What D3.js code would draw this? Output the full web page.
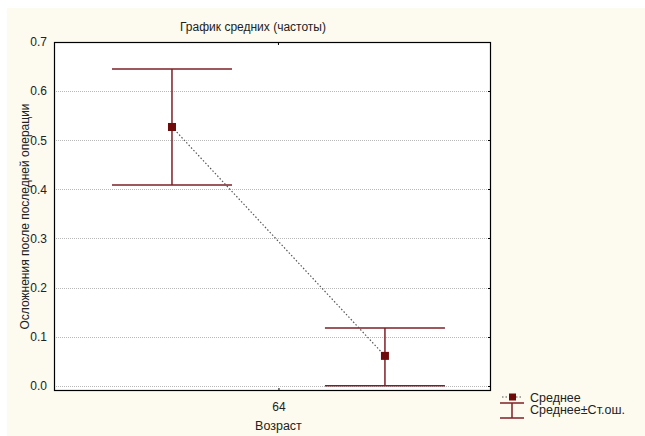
<!DOCTYPE html>
<html>
<head>
<meta charset="utf-8">
<script src="https://cdn.jsdelivr.net/npm/d3@7"></script>
<style>
  body { margin: 0; background: #fff; }
  text { font-family: "Liberation Sans", Arial, sans-serif; fill: #222; }
</style>
</head>
<body>
<div id="chart"></div>
<script>
// group positions along x and the single tick shown
var groups = [1, 2],
    means = [0.527, 0.061],
    upper = [0.645, 0.118],
    lower = [0.409, 0.0],
    xTicks = [1.5],
    xTickLabels = ["64"],
    yTicks = [0, 0.1, 0.2, 0.3, 0.4, 0.5, 0.6, 0.7];

var W = 645, H = 436;
var margin = { top: 42, right: 154, bottom: 45, left: 54 };
var width = W - margin.left - margin.right,
    height = H - margin.top - margin.bottom;

var svg = d3.select("#chart").append("svg")
    .attr("width", W)
    .attr("height", H);

svg.append("rect")
    .attr("x", 7).attr("y", 8)
    .attr("width", W - 7).attr("height", H - 8)
    .attr("fill", "#fdfbef");

var g = svg.append("g")
    .attr("transform", "translate(" + margin.left + "," + margin.top + ")");

var x = d3.scaleLinear().domain([0.446, 2.498]).range([0, width]);
var y = d3.scaleLinear().domain([-0.0105, 0.7]).range([height, 0]);

g.append("rect")
    .attr("width", width).attr("height", height)
    .attr("fill", "#fff");

// grid
g.selectAll(".grid").data(yTicks.slice(0, -1)).enter().append("line")
    .attr("x1", 0).attr("x2", width)
    .attr("y1", function (d) { return Math.round(y(d)) + 0.5; })
    .attr("y2", function (d) { return Math.round(y(d)) + 0.5; })
    .attr("stroke", "#b8b8b8")
    .attr("stroke-width", 1)
    .attr("stroke-dasharray", "1,1");

// y axis
var yAxis = g.append("g")
    .call(d3.axisLeft(y).tickValues(yTicks).tickFormat(d3.format(".1f")).tickSize(0).tickPadding(7));
yAxis.select(".domain").remove();
yAxis.selectAll("text").attr("font-size", 12).attr("fill", "#222");

// right ticks
g.selectAll(".rtick").data(yTicks).enter().append("line")
    .attr("x1", width - 3).attr("x2", width)
    .attr("y1", function (d) { return Math.round(y(d)) + 0.5; })
    .attr("y2", function (d) { return Math.round(y(d)) + 0.5; })
    .attr("stroke", "#000");

// x axis
var xAxis = g.append("g")
    .attr("transform", "translate(0," + height + ")")
    .call(d3.axisBottom(x).tickValues(xTicks)
        .tickFormat(function (d, i) { return xTickLabels[i]; })
        .tickSize(-3).tickPadding(11));
xAxis.select(".domain").remove();
xAxis.selectAll("line").attr("stroke", "#000");
xAxis.selectAll("text").attr("font-size", 12).attr("fill", "#222");

g.selectAll(".ttick").data(xTicks).enter().append("line")
    .attr("x1", function (d) { return x(d); })
    .attr("x2", function (d) { return x(d); })
    .attr("y1", 0).attr("y2", 3)
    .attr("stroke", "#000");

// frame
g.append("rect")
    .attr("x", 0.5).attr("y", 0.5)
    .attr("width", width - 1).attr("height", height - 1)
    .attr("fill", "none")
    .attr("stroke", "#000")
    .attr("stroke-width", 1.2);

var barColor = "#7d2026", capHalf = 60;

var bars = g.selectAll(".err").data(groups).enter().append("g");
bars.append("line")
    .attr("x1", function (d) { return x(d); })
    .attr("x2", function (d) { return x(d); })
    .attr("y1", function (d, i) { return y(upper[i]); })
    .attr("y2", function (d, i) { return y(lower[i]); })
    .attr("stroke", barColor).attr("stroke-width", 1.5);
bars.append("line")
    .attr("x1", function (d) { return x(d) - capHalf; })
    .attr("x2", function (d) { return x(d) + capHalf; })
    .attr("y1", function (d, i) { return y(upper[i]); })
    .attr("y2", function (d, i) { return y(upper[i]); })
    .attr("stroke", barColor).attr("stroke-width", 1.5);
bars.append("line")
    .attr("x1", function (d) { return x(d) - capHalf; })
    .attr("x2", function (d) { return x(d) + capHalf; })
    .attr("y1", function (d, i) { return y(lower[i]); })
    .attr("y2", function (d, i) { return y(lower[i]); })
    .attr("stroke", barColor).attr("stroke-width", 1.5);

// mean line
var line = d3.line()
    .x(function (d) { return x(d); })
    .y(function (d, i) { return y(means[i]); });
g.append("path")
    .datum(groups)
    .attr("d", line)
    .attr("fill", "none")
    .attr("stroke", "#555")
    .attr("stroke-width", 1.2)
    .attr("stroke-dasharray", "1.5,2");

g.selectAll(".pt").data(groups).enter().append("rect")
    .attr("x", function (d) { return x(d) - 4; })
    .attr("y", function (d, i) { return y(means[i]) - 4; })
    .attr("width", 8).attr("height", 8)
    .attr("fill", "#6e0a0a");

// titles
svg.append("text")
    .attr("x", 253).attr("y", 31)
    .attr("text-anchor", "middle")
    .attr("font-size", 12)
    .text("График средних (частоты)");

svg.append("text")
    .attr("transform", "translate(29," + (margin.top + height / 2) + ") rotate(-90)")
    .attr("text-anchor", "middle")
    .attr("font-size", 12)
    .text("Осложнения после последней операции");

svg.append("text")
    .attr("x", margin.left + x(xTicks[0])).attr("y", 430)
    .attr("text-anchor", "middle")
    .attr("font-size", 12.5)
    .text("Возраст");

// legend
var lg = svg.append("g").attr("transform", "translate(500,397)");
lg.append("line")
    .attr("x1", 2).attr("x2", 23).attr("y1", 0).attr("y2", 0)
    .attr("stroke", "#555").attr("stroke-dasharray", "1.5,2");
lg.append("rect")
    .attr("x", 9).attr("y", -3.5).attr("width", 7).attr("height", 7)
    .attr("fill", "#6e0a0a");
lg.append("text").attr("x", 30).attr("y", 4.5).attr("font-size", 12.5).text("Среднее");
lg.append("line").attr("x1", 0).attr("x2", 24).attr("y1", 6).attr("y2", 6)
    .attr("stroke", barColor).attr("stroke-width", 1.5);
lg.append("line").attr("x1", 12).attr("x2", 12).attr("y1", 6).attr("y2", 21)
    .attr("stroke", barColor).attr("stroke-width", 1.5);
lg.append("line").attr("x1", 0).attr("x2", 24).attr("y1", 21).attr("y2", 21)
    .attr("stroke", barColor).attr("stroke-width", 1.5);
lg.append("text").attr("x", 30).attr("y", 17).attr("font-size", 12.5).text("Среднее±Ст.ош.");
</script>
</body>
</html>
